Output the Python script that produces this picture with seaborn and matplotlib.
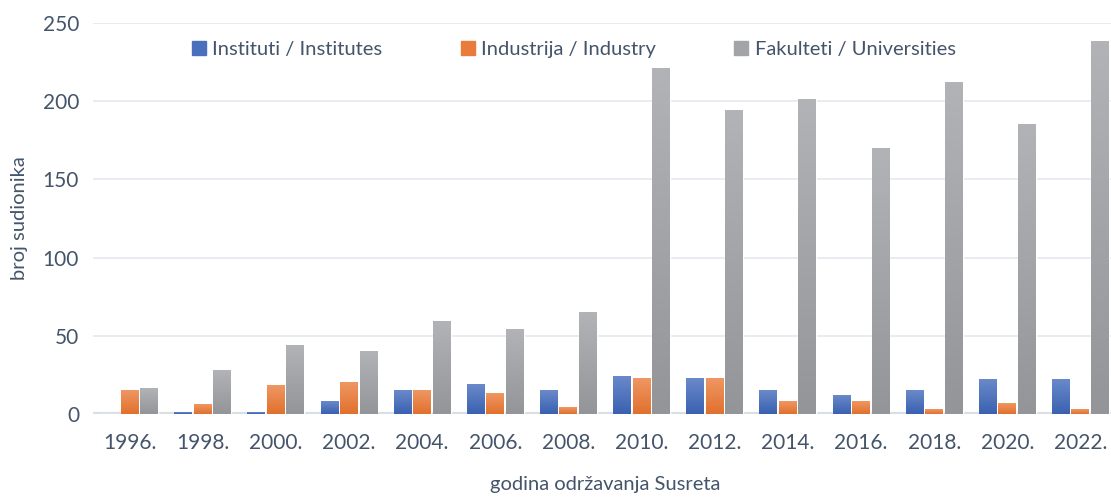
import matplotlib
matplotlib.use('Agg')
import matplotlib.pyplot as plt
import matplotlib.colors as mcolors
import seaborn as sns
import pandas as pd
import numpy as np

years = ['1996.', '1998.', '2000.', '2002.', '2004.', '2006.', '2008.',
         '2010.', '2012.', '2014.', '2016.', '2018.', '2020.', '2022.']
institutes = [0, 1, 1, 8, 15, 19, 15, 24, 23, 15, 12, 15, 22, 22]
industry = [15, 6, 18, 20, 15, 13, 4, 23, 23, 8, 8, 3, 7, 3]
universities = [16, 28, 44, 40, 59, 54, 65, 221, 194, 201, 170, 212, 185, 238]

series_names = ['Instituti / Institutes', 'Industrija / Industry', 'Fakulteti / Universities']
colors = ['#4a6fbd', '#e97c3d', '#a3a4a7']
# gradient (top, bottom) per series
grads = [('#6a89ca', '#3a61b0'), ('#ef9763', '#e1702d'), ('#b2b3b6', '#949598')]

df = pd.DataFrame({
    'year': years * 3,
    'count': institutes + industry + universities,
    'series': [s for s in series_names for _ in years],
})

sns.set_style('white')
plt.rcParams['font.family'] = ['Lato', 'DejaVu Sans']
text_col = '#44546a'

fig = plt.figure(figsize=(11.11, 4.97), dpi=100)
ax = fig.add_axes([93 / 1111, 1 - 414 / 497, 1024 / 1111, 391 / 497])

sns.barplot(data=df, x='year', y='count', hue='series', palette=colors,
            width=0.8, gap=0.08, ax=ax, legend=False, zorder=3)

# vertical gradients on the bars
for cont, (top, bot) in zip(ax.containers, grads):
    c_top = np.array(mcolors.to_rgb(top))
    c_bot = np.array(mcolors.to_rgb(bot))
    for p in cont.patches:
        h = p.get_height()
        if h <= 0:
            continue
        x0, w = p.get_x(), p.get_width()
        t = np.linspace(0, 1, 64)[:, None]
        img = (c_top * (1 - t) + c_bot * t)[:, None, :]
        ax.imshow(img, extent=[x0, x0 + w, 0, h], aspect='auto', zorder=4,
                  origin='upper', interpolation='bilinear')

ax.set_xlim(-0.5, len(years) - 0.5)
ax.set_ylim(0, 250)
ax.set_yticks([0, 50, 100, 150, 200, 250])
ax.grid(axis='y', color='#e6e8ed', linewidth=1.2, zorder=0)
ax.axhline(0, color='#d9dde4', linewidth=3, zorder=2)
for s in ax.spines.values():
    s.set_visible(False)
ax.tick_params(axis='both', length=0, labelsize=15, colors=text_col)
ax.tick_params(axis='y', pad=10)
ax.tick_params(axis='x', pad=14)

ax.set_xlabel('godina održavanja Susreta', fontsize=14.5, color=text_col, labelpad=16)
ax.set_ylabel('broj sudionika', fontsize=14.5, color=text_col)
ax.yaxis.set_label_coords(-0.063, 0.5)

handles = [plt.Rectangle((0, 0), 1, 1, color=c) for c in colors]
ax.legend(handles, series_names, loc='upper left', bbox_to_anchor=(0.079, 1.0),
          ncol=3, frameon=False, fontsize=14.5, labelcolor=text_col,
          handlelength=0.7, handleheight=0.7, handletextpad=0.3,
          columnspacing=3.9)

fig.savefig('out.png', dpi=100)
